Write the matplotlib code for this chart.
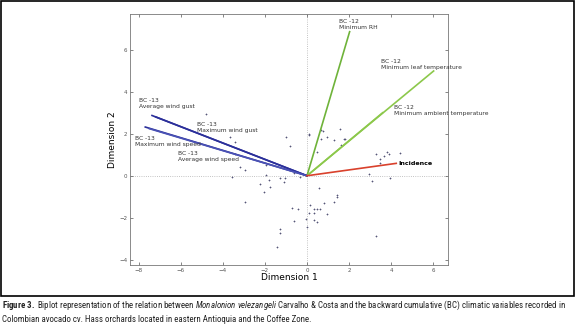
import matplotlib
matplotlib.use("Agg")
import matplotlib.pyplot as plt
from matplotlib.patches import Rectangle
from matplotlib import font_manager

# vectors of the biplot (end points in dimension 1 / dimension 2)
var_names = [
    "BC -12\nMinimum RH",
    "BC -12\nMinimum leaf temperature",
    "BC -12\nMinimum ambient temperature",
    "BC -13\nAverage wind gust",
    "BC -13\nMaximum wind gust",
    "BC -13\nMaximum wind speed",
    "BC -13\nAverage wind speed",
    "Incidence",
]
var_x = [2.03, 6.03, 3.60, -7.38, -7.20, -7.70, -7.50, 4.25]
var_y = [6.86, 4.99, 3.00, 2.87, 2.80, 2.32, 2.24, 0.59]

# observations (scores)
obs_x = [-4.81, -3.68, -3.44, -0.98, -0.83, -3.44, -3.17, -2.94, -3.57, -1.95,
         -1.94, -1.83, -1.27, -1.11, -1.03, -0.63, -0.32, -2.22, -2.06, -1.75,
         -2.94, -0.71, -0.44, -0.63, -1.30, -1.27, -1.43, -0.03, 0.00, 0.08,
         0.32, 0.48, 0.63, 0.32, 0.32, 0.48, 0.13, 0.59, 0.79, 0.95, 1.27,
         1.43, 1.43, 0.08, 0.11, 0.67, 0.75, 0.67, 0.95, 1.27, 1.56, 1.75,
         1.83, 1.62, 0.48, 3.30, 3.49, 3.68, 3.81, 3.89, 4.44, 3.49, 2.94,
         3.10, 3.97, 3.27]
obs_y = [2.92, 1.86, 1.59, 1.83, 1.41, 1.03, 0.43, 0.27, -0.05, 0.03,
         0.51, -0.21, -0.13, -0.29, -0.13, 0.11, -0.05, -0.37, -0.76, -0.52,
         -1.27, -1.52, -1.56, -2.14, -2.56, -2.75, -3.41, -2.08, -2.43, -1.79,
         -1.60, -1.60, -1.59, -1.79, -2.11, -2.19, -1.40, -0.60, -1.32, -1.83,
         -1.24, -0.92, -1.00, 1.94, 1.97, 2.18, 2.14, 1.75, 1.86, 1.70, 2.25,
         1.73, 1.73, 1.46, 1.14, 1.03, 0.78, 0.94, 1.14, 1.03, 1.10, 0.59,
         0.06, -0.24, -0.10, -2.87]

CAPTION_1 = (r"$\mathbf{Figure\ 3.}$ Biplot representation of the relation between "
             r"$\mathit{Monalonion\ velezangeli}$ Carvalho & Costa and the backward "
             r"cumulative (BC) climatic variables recorded in")
CAPTION_2 = "Colombian avocado cv. Hass orchards located in eastern Antioquia and the Coffee Zone."

colors = ["#6fb33a", "#8cc84b", "#8cc84b", "#2b2f9a", "#2b2f9a", "#2b2f9a",
          "#4a52b5", "#d9412c"]
# label anchor points (left edge, centre of the text block)
label_pos = [(1.54, 7.22), (3.54, 5.30), (4.12, 3.12), (-7.99, 3.43),
             (-5.24, 2.32), (-8.19, 1.65), (-6.14, 0.92), (4.33, 0.59)]

names = set(f.name for f in font_manager.fontManager.ttflist)
cap_font = "DejaVu Sans"
for cand in ["Liberation Sans Narrow", "Roboto Condensed", "Open Sans Condensed",
             "Roboto", "Liberation Sans"]:
    if cand in names:
        cap_font = cand
        break
plt.rcParams["mathtext.fontset"] = "custom"
plt.rcParams["mathtext.rm"] = cap_font
plt.rcParams["mathtext.it"] = cap_font + ":italic"
plt.rcParams["mathtext.bf"] = cap_font + ":bold"

fig = plt.figure(figsize=(5.75, 3.35), dpi=100)
ax = fig.add_axes([0.226, 0.209, 0.553, 0.749])

ax.axhline(0, color="#b0b0b0", lw=0.6, ls=":", zorder=0)
ax.axvline(0, color="#b0b0b0", lw=0.6, ls=":", zorder=0)

ax.plot(obs_x, obs_y, "+", color="#555577", ms=2.0, mew=0.5, zorder=1)

for i in range(len(var_names)):
    ax.plot([0, var_x[i]], [0, var_y[i]], color=colors[i], lw=1.2, zorder=2)
    lx, ly = label_pos[i]
    if var_names[i] == "Incidence":
        ax.text(lx, ly, var_names[i], fontsize=4.6, color="black",
                fontweight="bold", va="center", ha="left")
    else:
        ax.text(lx, ly, var_names[i], fontsize=4.3, color="#333333",
                va="center", ha="left", linespacing=1.25)

ax.set_xlim(-8.43, 6.71)
ax.set_ylim(-4.25, 7.7)
ax.set_xticks([-8, -6, -4, -2, 0, 2, 4, 6])
ax.set_yticks([-4, -2, 0, 2, 4, 6])
ax.tick_params(direction="in", length=2.5, width=0.5, labelsize=4,
               colors="#555555", top=True, right=True, pad=2)
for s in ax.spines.values():
    s.set_color("#777777")
    s.set_linewidth(0.6)
ax.set_xlabel("Dimension 1", fontsize=6.5, labelpad=0.5)
ax.set_ylabel("Dimension 2", fontsize=6.5, labelpad=1.5)

fig.patches.append(Rectangle((0.002, 0.115), 0.996, 0.882, transform=fig.transFigure,
                             fill=False, edgecolor="black", lw=1.2))

# caption: shrink the font until the first line fills the width
cap1 = fig.text(0.004, 0.088, CAPTION_1, fontsize=7, family=cap_font,
                color="#222222", va="center")
renderer = fig.canvas.get_renderer()
w = cap1.get_window_extent(renderer).width
fs = 7 * 568 / w
cap1.set_fontsize(fs)
fig.text(0.004, 0.047, CAPTION_2, fontsize=fs, family=cap_font,
         color="#222222", va="center")

fig.savefig("out.png", dpi=100)
